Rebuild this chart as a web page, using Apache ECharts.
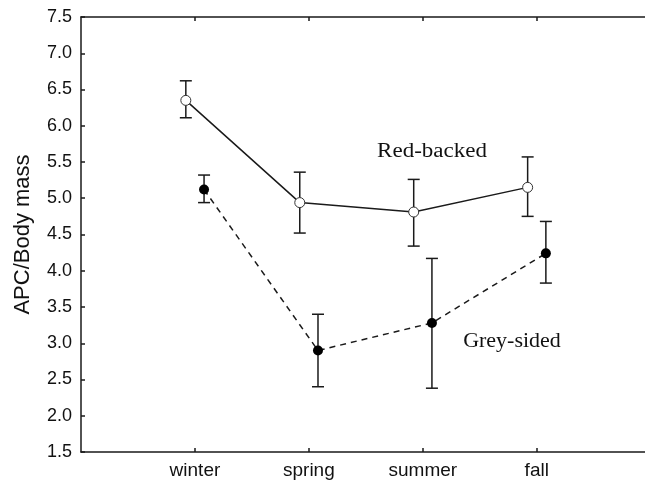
<!DOCTYPE html>
<html>
<head>
<meta charset="utf-8">
<script src="https://cdn.jsdelivr.net/npm/echarts@6/dist/echarts.min.js"></script>
<style>
  html, body { margin: 0; padding: 0; background: #fff; }
  #chart { width: 645px; height: 485px; }
</style>
</head>
<body>
<div id="chart"></div>
<script>
// categories (placed at 1..4 on a value axis so the two series can be dodged)
const seasons = ['winter', 'spring', 'summer', 'fall'];
const yTicks = [1.5, 2.0, 2.5, 3.0, 3.5, 4.0, 4.5, 5.0, 5.5, 6.0, 6.5, 7.0, 7.5];

// Red-backed: mean, upper, lower
const redMean = [6.35, 4.94, 4.81, 5.15];
const redHigh = [6.62, 5.36, 5.26, 5.57];
const redLow = [6.11, 4.52, 4.34, 4.75];

// Grey-sided: mean, upper, lower
const greyMean = [5.12, 2.90, 3.28, 4.24];
const greyHigh = [5.32, 3.40, 4.17, 4.68];
const greyLow = [4.94, 2.40, 2.38, 3.83];

const dodge = 0.08;
const ink = '#1a1a1a';

function pts(vals, off) {
  return vals.map((v, i) => [i + 1 + off, v]);
}
function bars(hi, lo, off) {
  return hi.map((h, i) => [i + 1 + off, lo[i], h]);
}

function errorBar(params, api) {
  const x = api.value(0);
  const lo = api.coord([x, api.value(1)]);
  const hi = api.coord([x, api.value(2)]);
  const cap = 6;
  const style = { stroke: ink, lineWidth: 1.5 };
  return {
    type: 'group',
    children: [
      { type: 'line', shape: { x1: lo[0], y1: lo[1], x2: hi[0], y2: hi[1] }, style: style },
      { type: 'line', shape: { x1: hi[0] - cap, y1: hi[1], x2: hi[0] + cap, y2: hi[1] }, style: style },
      { type: 'line', shape: { x1: lo[0] - cap, y1: lo[1], x2: lo[0] + cap, y2: lo[1] }, style: style }
    ]
  };
}

const chart = echarts.init(document.getElementById('chart'), null, { renderer: 'canvas' });

const labelFont = { color: '#111', fontFamily: 'Liberation Sans', fontSize: 19 };

chart.setOption({
  animation: false,
  backgroundColor: '#fff',
  grid: { left: 81, right: 0, top: 17, bottom: 33 },
  xAxis: [{
    type: 'value',
    min: 0,
    max: 4.95,
    interval: 1,
    splitLine: { show: false },
    axisLine: { onZero: false, lineStyle: { color: ink, width: 1.5 } },
    axisTick: { inside: true, length: 4, customValues: [1, 2, 3, 4], lineStyle: { color: ink, width: 1.5 } },
    axisLabel: Object.assign({
      margin: 9,
      customValues: [1, 2, 3, 4],
      formatter: v => seasons[Math.round(v) - 1] || ''
    }, labelFont)
  }, {
    type: 'value',
    position: 'top',
    min: 0,
    max: 4.95,
    interval: 1,
    splitLine: { show: false },
    axisLine: { onZero: false, lineStyle: { color: ink, width: 1.5 } },
    axisTick: { inside: true, length: 4, customValues: [1, 2, 3, 4], lineStyle: { color: ink, width: 1.5 } },
    axisLabel: { show: false }
  }],
  yAxis: {
    type: 'value',
    min: 1.5,
    max: 7.5,
    interval: 0.5,
    name: 'APC/Body mass',
    nameLocation: 'middle',
    nameGap: 47,
    nameTextStyle: { color: '#111', fontFamily: 'Liberation Sans', fontSize: 22 },
    splitLine: { show: false },
    axisLine: { show: true, onZero: false, lineStyle: { color: ink, width: 1.5 } },
    axisTick: { show: true, inside: true, length: 4, lineStyle: { color: ink, width: 1.5 } },
    axisLabel: Object.assign({
      margin: 9,
      customValues: yTicks,
      formatter: v => v.toFixed(1)
    }, labelFont, { fontSize: 18 })
  },
  series: [
    {
      name: 'Red-backed err',
      type: 'custom',
      renderItem: errorBar,
      encode: { x: 0, y: [1, 2] },
      data: bars(redHigh, redLow, -dodge),
      z: 2
    },
    {
      name: 'Grey-sided err',
      type: 'custom',
      renderItem: errorBar,
      encode: { x: 0, y: [1, 2] },
      data: bars(greyHigh, greyLow, dodge),
      z: 2
    },
    {
      name: 'Red-backed',
      type: 'line',
      data: pts(redMean, -dodge),
      symbol: 'circle',
      symbolSize: 10,
      lineStyle: { color: ink, width: 1.5 },
      itemStyle: { color: '#fff', borderColor: '#333', borderWidth: 1 },
      z: 3
    },
    {
      name: 'Grey-sided',
      type: 'line',
      data: pts(greyMean, dodge),
      symbol: 'circle',
      symbolSize: 10,
      lineStyle: { color: ink, width: 1.5, type: [6, 5] },
      itemStyle: { color: '#000', borderColor: '#000', borderWidth: 0 },
      z: 3
    }
  ],
  graphic: [
    {
      type: 'text',
      x: 432,
      y: 152,
      scaleX: 1.15,
      style: {
        text: 'Red-backed',
        fontFamily: 'Liberation Serif',
        fontSize: 20,
        fill: '#111',
        align: 'center',
        verticalAlign: 'middle'
      }
    },
    {
      type: 'text',
      x: 512,
      y: 342,
      scaleX: 1.1,
      style: {
        text: 'Grey-sided',
        fontFamily: 'Liberation Serif',
        fontSize: 20,
        fill: '#111',
        align: 'center',
        verticalAlign: 'middle'
      }
    }
  ]
});
</script>
</body>
</html>
